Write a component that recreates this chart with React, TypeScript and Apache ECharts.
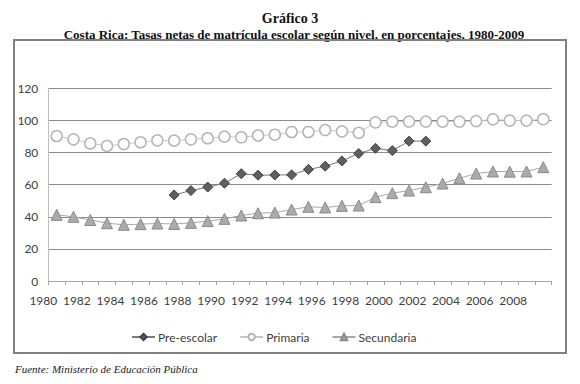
import React, { useEffect, useRef } from "react";
import * as echarts from "echarts";

const years = [
  "1980", "1981", "1982", "1983", "1984", "1985", "1986", "1987", "1988", "1989",
  "1990", "1991", "1992", "1993", "1994", "1995", "1996", "1997", "1998", "1999",
  "2000", "2001", "2002", "2003", "2004", "2005", "2006", "2007", "2008", "2009",
];

const preescolar = [
  null, null, null, null, null, null, null, 53.6, 56.3, 58.5,
  60.9, 66.8, 65.9, 66.0, 66.1, 69.5, 71.5, 74.8, 79.4, 82.6,
  81.2, 87.1, 87.1, null, null, null, null, null, null, null,
];

const primaria = [
  90.3, 88.2, 85.7, 84.1, 85.3, 86.4, 87.6, 87.4, 88.2, 88.9,
  89.9, 89.5, 90.6, 91.1, 92.8, 92.8, 94.0, 93.2, 92.3, 98.8,
  99.2, 99.3, 99.3, 99.3, 99.3, 99.6, 100.7, 99.9, 99.9, 100.8,
];

const secundaria = [
  41.2, 40.0, 38.0, 36.0, 35.0, 35.4, 35.8, 35.5, 36.2, 37.3,
  38.7, 40.8, 42.2, 42.6, 44.5, 46.2, 45.8, 46.8, 47.0, 52.2,
  54.7, 56.3, 58.4, 60.7, 64.0, 66.9, 68.2, 68.1, 68.2, 70.9,
];

const yTicks = { min: 0, max: 120, interval: 20 };
const xLabelRange = { min: 1980, max: 2010, interval: 2 };

const titleMain = "Gráfico 3";
const titleSub = "Costa Rica: Tasas netas de matrícula escolar según nivel, en porcentajes, 1980-2009";
const source = "Fuente: Ministerio de Educación Pública";

const sansFont = "Lato";
const serifFont = "Liberation Serif";

export default function App() {
  const ref = useRef<HTMLDivElement>(null);

  useEffect(() => {
    if (!ref.current) return;
    const chart = echarts.init(ref.current, null, { renderer: "svg" });
    chart.setOption({
      animation: false,
      backgroundColor: "#ffffff",
      title: [
        {
          text: titleMain,
          left: "center",
          top: 6,
          textStyle: { fontFamily: serifFont, fontWeight: "bold", fontSize: 14, color: "#111" },
        },
        {
          text: titleSub,
          left: 289,
          textAlign: "center",
          top: 23,
          textStyle: { fontFamily: serifFont, fontWeight: "bold", fontSize: 13, color: "#111" },
        },
        {
          text: source,
          left: 10,
          top: 358,
          textStyle: { fontFamily: serifFont, fontStyle: "italic", fontWeight: "normal", fontSize: 11, color: "#222" },
        },
      ],
      legend: {
        left: 126,
        top: 326,
        itemWidth: 23,
        itemHeight: 8,
        itemGap: 22,
        textStyle: { fontFamily: sansFont, fontSize: 12, color: "#404040", padding: [0, 0, 0, -2] },
        data: ["Pre-escolar", "Primaria", "Secundaria"],
      },
      grid: { left: 48.3, right: 28.3, top: 88.3, bottom: 103 },
      xAxis: [
        {
          type: "category",
          data: years,
          boundaryGap: true,
          axisLine: { show: true, lineStyle: { color: "#a6a6a6", width: 1 } },
          axisTick: { show: true, interval: 0, length: 4, lineStyle: { color: "#a6a6a6" } },
          axisLabel: { show: false },
          splitLine: { show: false },
        },
        {
          type: "value",
          position: "bottom",
          min: xLabelRange.min,
          max: xLabelRange.max,
          interval: xLabelRange.interval,
          axisLine: { show: false },
          axisTick: { show: false },
          splitLine: { show: false },
          axisLabel: {
            show: true,
            showMaxLabel: false,
            margin: 13,
            padding: [0, 10, 0, 0],
            fontFamily: sansFont,
            fontSize: 12,
            color: "#404040",
            formatter: (v: number) => String(v),
          },
        },
      ],
      yAxis: {
        type: "value",
        min: yTicks.min,
        max: yTicks.max,
        interval: yTicks.interval,
        axisLine: { show: true, lineStyle: { color: "#bfbfbf" } },
        axisTick: { show: false },
        axisLabel: { margin: 10, fontFamily: sansFont, fontSize: 12, color: "#404040" },
        splitLine: { show: true, lineStyle: { color: "#8c8c8c", width: 1 } },
      },
      series: [
        {
          name: "Pre-escolar",
          type: "line",
          xAxisIndex: 0,
          data: preescolar,
          symbol: "diamond",
          symbolSize: 10,
          showAllSymbol: true,
          lineStyle: { color: "#7a7a7a", width: 1 },
          itemStyle: { color: "#5f5f5f", borderColor: "#3f3f3f", borderWidth: 1 },
          z: 4,
        },
        {
          name: "Primaria",
          type: "line",
          xAxisIndex: 0,
          data: primaria,
          symbol: "circle",
          symbolSize: 11,
          showAllSymbol: true,
          lineStyle: { color: "#c8c8c8", width: 1 },
          itemStyle: { color: "#ffffff", borderColor: "#b5b5b5", borderWidth: 1.5 },
          z: 3,
        },
        {
          name: "Secundaria",
          type: "line",
          xAxisIndex: 0,
          data: secundaria,
          symbol: "triangle",
          symbolSize: 11,
          showAllSymbol: true,
          lineStyle: { color: "#a8a8a8", width: 1 },
          itemStyle: { color: "#ababab", borderColor: "#8a8a8a", borderWidth: 1 },
          z: 3,
        },
      ],
    });
    return () => chart.dispose();
  }, []);

  return (
    <div style={{ position: "absolute", left: 0, top: 0, width: 580, height: 384 }}>
      <div ref={ref} style={{ position: "absolute", left: 0, top: 0, width: 580, height: 384 }} />
      <div
        style={{
          position: "absolute",
          left: 13,
          top: 39,
          width: 550,
          height: 311,
          border: "2px solid #808080",
          pointerEvents: "none",
        }}
      />
    </div>
  );
}
